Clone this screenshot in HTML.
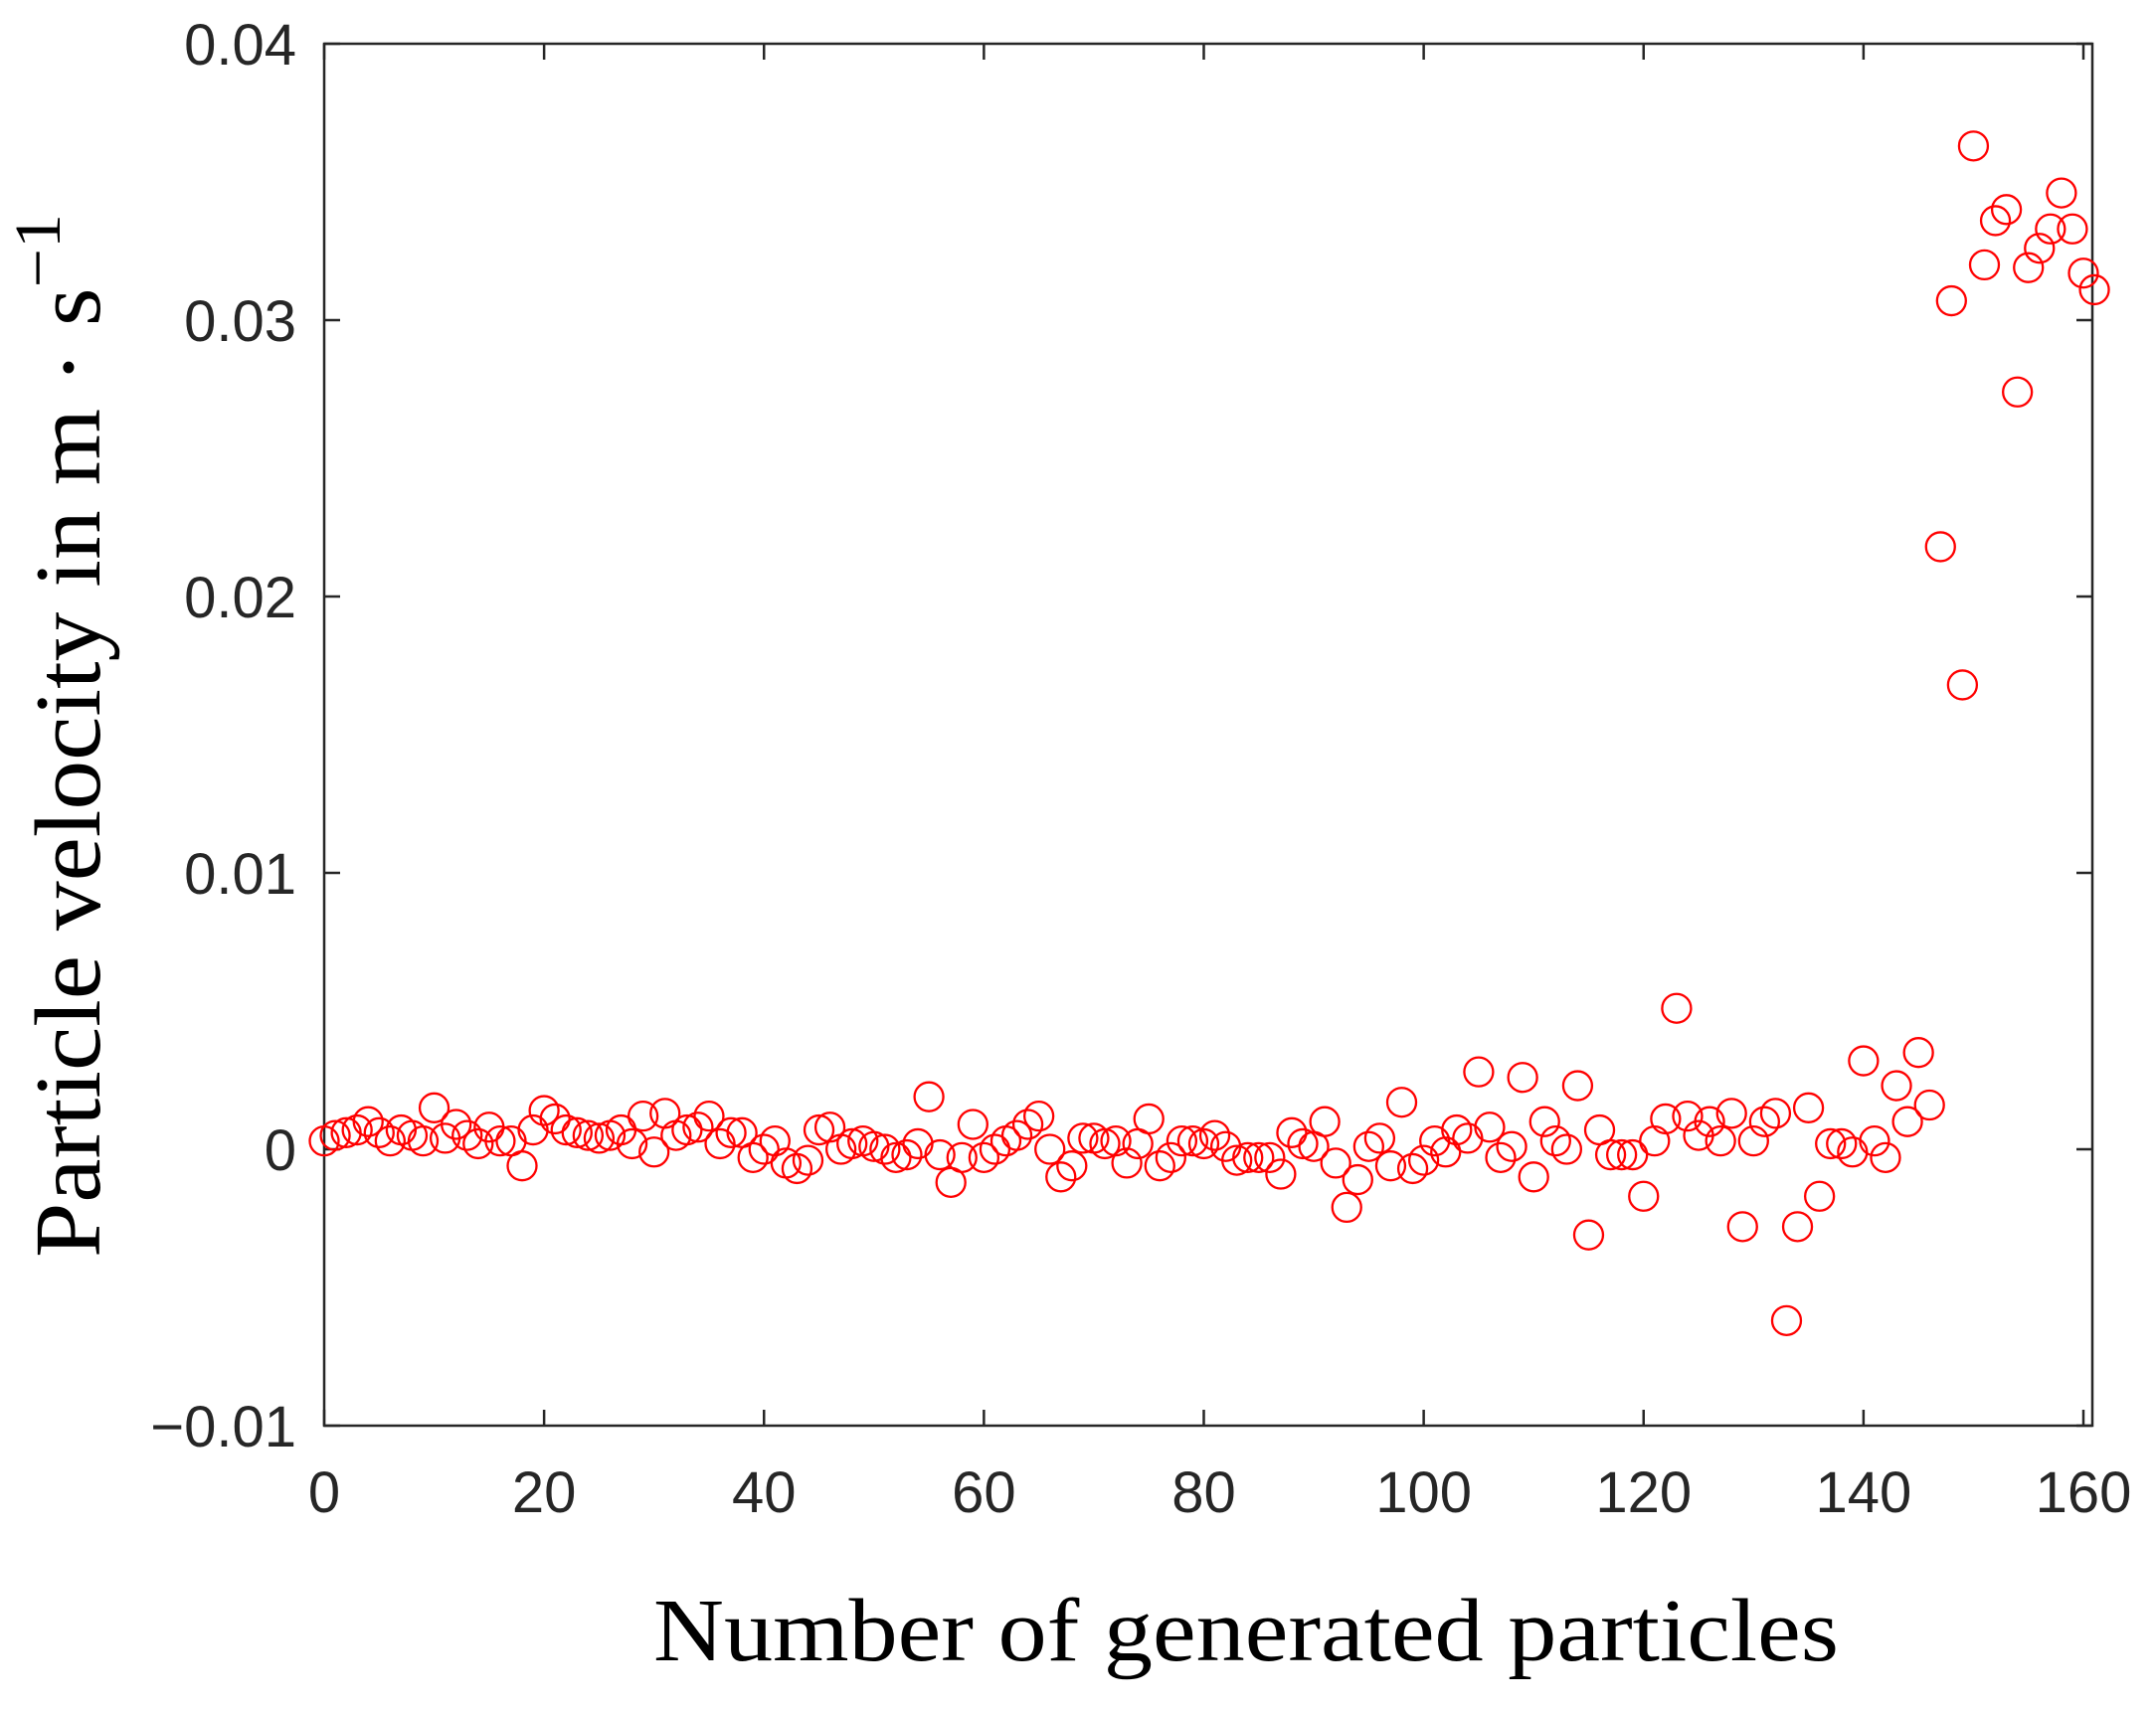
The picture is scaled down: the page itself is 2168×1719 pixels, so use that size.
<!DOCTYPE html>
<html><head><meta charset="utf-8"><style>
html,body{margin:0;padding:0;background:#fff;}
svg{display:block;}
</style></head><body>
<svg id="chart" width="2168" height="1719" xmlns="http://www.w3.org/2000/svg">
<rect width="2168" height="1719" fill="#fff"/>
<g id="axes"></g>
<g id="points"></g>
<text x="1253" y="1670" font-family="Liberation Serif, serif" font-size="90" text-anchor="middle" fill="#000" textLength="1192" lengthAdjust="spacingAndGlyphs">Number of generated particles</text>
<text transform="translate(100,740) rotate(-90)" font-family="Liberation Serif, serif" font-size="94" text-anchor="middle" fill="#000" textLength="1050" lengthAdjust="spacingAndGlyphs">Particle velocity in m · s<tspan dy="-40" font-size="66">−1</tspan></text>
</svg>
<script>
const xTicks = [0,20,40,60,80,100,120,140,160];
const yTicks = [-0.01,0,0.01,0.02,0.03,0.04];
const yTickLabels = ["\u22120.01","0","0.01","0.02","0.03","0.04"];
const velocities = [0.3,0.5,0.6,0.7,1.0,0.6,0.3,0.7,0.5,0.3,1.5,0.4,0.9,0.5,0.2,0.8,0.3,0.3,-0.6,0.7,
1.4,1.1,0.7,0.6,0.5,0.4,0.5,0.7,0.2,1.2,-0.1,1.3,0.5,0.7,0.8,1.2,0.2,0.6,0.6,-0.3,
0,0.3,-0.5,-0.7,-0.4,0.7,0.8,0,0.2,0.3,0.1,0,-0.3,-0.2,0.2,1.9,-0.2,-1.2,-0.3,0.9,
-0.3,0,0.3,0.5,0.9,1.2,0,-1.0,-0.6,0.4,0.4,0.2,0.3,-0.5,0.2,1.1,-0.6,-0.3,0.3,0.3,
0.2,0.5,0.1,-0.4,-0.3,-0.3,-0.3,-0.9,0.6,0.2,0.1,1.0,-0.5,-2.1,-1.1,0.1,0.4,-0.6,1.7,-0.7,
-0.4,0.3,-0.1,0.7,0.4,2.8,0.8,-0.3,0.1,2.6,-1.0,1.0,0.3,0,2.3,-3.1,0.7,-0.2,-0.2,-0.2,
-1.7,0.3,1.1,5.1,1.2,0.5,1.0,0.3,1.3,-2.8,0.3,1.0,1.3,-6.2,-2.8,1.5,-1.7,0.2,0.2,-0.1,
3.2,0.3,-0.3,2.3,1.0,3.5,1.6,21.8,30.7,16.8,36.3,32.0,33.6,34.0,27.4,31.9,32.6,33.3,34.6,33.3,
31.7,31.1]; // in units of 1e-3 m/s

const L=326,R=2104,T=44,B=1434;
const xs = v => 326 + v*(2095-326)/160;
const ys = v => B - (v+0.01)*(B-T)/0.05;
const NS="http://www.w3.org/2000/svg";
const ax=document.getElementById('axes');
function mk(tag,attrs){const e=document.createElementNS(NS,tag);for(const k in attrs)e.setAttribute(k,attrs[k]);return e;}
const box=mk('rect',{x:L,y:T,width:R-L,height:B-T,fill:'none',stroke:'#262626','stroke-width':2.5});


ax.appendChild(box);
xTicks.forEach(t=>{
  const x=xs(t);
  const a=mk('line',{x1:x,x2:x,y1:B,y2:B-16,stroke:'#262626','stroke-width':2.5});
  
  
  ax.appendChild(a);
  const b=mk('line',{x1:x,x2:x,y1:T,y2:T+16,stroke:'#262626','stroke-width':2.5});
  
  
  ax.appendChild(b);
  const tx=mk('text',{x:x,y:1521,'font-family':'Liberation Sans, sans-serif','font-size':58,'text-anchor':'middle',fill:'#262626'});
  
  
  tx.textContent=String(t);
  ax.appendChild(tx);
});
yTicks.forEach((t,i)=>{
  const y=ys(t);
  const a=mk('line',{x1:L,x2:L+16,y1:y,y2:y,stroke:'#262626','stroke-width':2.5});
  
  
  ax.appendChild(a);
  const b=mk('line',{x1:R,x2:R-16,y1:y,y2:y,stroke:'#262626','stroke-width':2.5});
  
  
  ax.appendChild(b);
  const tx=mk('text',{x:298,y:y+21,'font-family':'Liberation Sans, sans-serif','font-size':58,'text-anchor':'end',fill:'#262626'});
  
  
  tx.textContent=yTickLabels[i];
  ax.appendChild(tx);
});
const pg=document.getElementById('points');
velocities.forEach((v,i)=>{
  const c=mk('circle',{cx:xs(i),cy:ys(v/1000),r:14.5,fill:'none',stroke:'#ff0000','stroke-width':2.3});
  
  
  pg.appendChild(c);
});
</script>
</body></html>
